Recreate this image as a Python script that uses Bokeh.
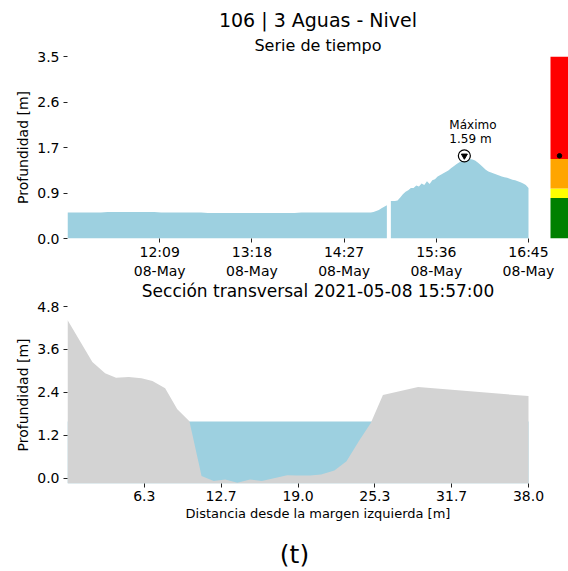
import numpy as np
import pandas as pd
from bokeh.plotting import figure
from bokeh.models import Range1d, FixedTicker, Title, Label
from bokeh.layouts import column
from bokeh.embed import file_html
from bokeh.resources import INLINE
from bokeh.core.properties import value

FONT = "DejaVu Sans"

# ---------------- texts ----------------
station_title = "106 | 3 Aguas - Nivel"
ts_title = "Serie de tiempo"
cs_title = "Sección transversal 2021-05-08 15:57:00"
panel_tag = "(t)"
depth_label = "Profundidad [m]"
dist_label = "Distancia desde la margen izquierda [m]"
day = "2021-05-08"

# ---------------- time series (level, m) ----------------
seg1_times = ["11:00", "11:05", "11:10", "11:15", "11:20", "11:25", "11:30", "11:35", "11:40", "11:45", "11:50", "11:55",
              "12:00", "12:05", "12:10", "12:15", "12:20", "12:25", "12:30", "12:35", "12:40", "12:45", "12:50", "12:55",
              "13:00", "13:05", "13:10", "13:15", "13:20", "13:25", "13:30", "13:35", "13:40", "13:45", "13:50", "13:55",
              "14:00", "14:05", "14:10", "14:15", "14:20", "14:25", "14:30", "14:35", "14:40", "14:45",
              "14:47", "14:49", "14:51", "14:53", "14:55", "14:57", "14:59"]
seg1_levels = [0.50, 0.50, 0.50, 0.50, 0.50, 0.50, 0.51, 0.51, 0.51, 0.51, 0.51, 0.51,
               0.51, 0.51, 0.50, 0.50, 0.50, 0.50, 0.50, 0.50, 0.50, 0.49, 0.49, 0.49,
               0.49, 0.49, 0.49, 0.49, 0.49, 0.49, 0.49, 0.49, 0.49, 0.49, 0.49, 0.50,
               0.50, 0.50, 0.50, 0.50, 0.50, 0.50, 0.50, 0.50, 0.50, 0.50,
               0.50, 0.51, 0.53, 0.55, 0.58, 0.61, 0.64]

seg2_times = ["15:02", "15:03", "15:05", "15:07", "15:09", "15:11", "15:13", "15:15", "15:17", "15:19", "15:21",
              "15:23", "15:25", "15:27", "15:29", "15:31", "15:33", "15:35", "15:37", "15:39", "15:41",
              "15:43", "15:45", "15:47", "15:49", "15:51", "15:53", "15:55", "15:57", "15:59",
              "16:01", "16:03", "16:05", "16:07", "16:09", "16:11", "16:13", "16:15", "16:17", "16:19",
              "16:21", "16:23", "16:25", "16:27", "16:29", "16:31", "16:33", "16:35", "16:37", "16:39",
              "16:41", "16:43", "16:45"]
seg2_levels = [0.72, 0.72, 0.72, 0.73, 0.79, 0.85, 0.90, 0.93, 0.97, 0.97, 1.02,
               1.00, 1.06, 1.03, 1.10, 1.05, 1.12, 1.14, 1.19, 1.22, 1.25,
               1.28, 1.31, 1.35, 1.39, 1.43, 1.46, 1.49, 1.59, 1.51,
               1.53, 1.52, 1.50, 1.46, 1.42, 1.37, 1.32, 1.29, 1.27, 1.25,
               1.23, 1.21, 1.19, 1.18, 1.17, 1.15, 1.13, 1.12, 1.10, 1.08,
               1.06, 1.03, 0.97]

ts_ticks = ["12:09", "13:18", "14:27", "15:36", "16:45"]
ts_tick_labels = ["12:09\n08-May", "13:18\n08-May", "14:27\n08-May", "15:36\n08-May", "16:45\n08-May"]
level_ticks = [0.0, 0.875, 1.75, 2.625, 3.5]
level_tick_labels = ["0.0", "0.9", "1.7", "2.6", "3.5"]

# alert bar (m)
alert_bounds = [0.0, 0.78, 0.96, 1.53, 3.5]
alert_colors = ["green", "yellow", "orange", "red"]

# ---------------- cross section ----------------
dist = [0.0, 2.05, 3.1, 4.0, 5.05, 6.1, 7.0, 8.05, 9.05, 10.05, 11.05, 12.05, 13.0, 14.0, 15.05,
        16.0, 17.2, 18.1, 19.0, 20.0, 20.9, 22.0, 23.0, 24.05, 25.0, 26.0, 28.9, 38.0]
elev = [4.42, 3.25, 2.94, 2.81, 2.83, 2.80, 2.72, 2.52, 1.93, 1.60, 0.07, -0.07, -0.03, -0.12, -0.03,
        -0.07, 0.02, 0.09, 0.08, 0.08, 0.11, 0.22, 0.48, 1.06, 1.55, 2.33, 2.55, 2.30]
water_level = 1.59
dist_ticks = [6.333, 12.667, 19.0, 25.333, 31.667, 38.0]
dist_tick_labels = ["6.3", "12.7", "19.0", "25.3", "31.7", "38.0"]
depth_ticks = [0.0, 1.2, 2.4, 3.6, 4.8]
depth_tick_labels = ["0.0", "1.2", "2.4", "3.6", "4.8"]

WATER = "#9dd0e0"
GROUND = "#d3d3d3"
TXT = "#000000"


def to_ms(hm):
    return pd.Timestamp(f"{day} {hm}").value / 1e6


t1 = [to_ms(t) for t in seg1_times]
t2 = [to_ms(t) for t in seg2_times]
all_t = t1 + t2
all_v = seg1_levels + seg2_levels
imax = int(np.argmax(all_v))
t_max, v_max = all_t[imax], all_v[imax]

# layout geometry (pixels)
W = 568
LEFT = 67
FRAME_W = W - LEFT
DATA_W = 461
ext = (FRAME_W - DATA_W) / DATA_W
BAR_L, BAR_W = 550 - LEFT, 18


def style_axes(p):
    for ax in (p.xaxis[0], p.yaxis[0]):
        ax.axis_line_color = None
        ax.major_tick_line_color = "#222222"
        ax.major_tick_out = 4
        ax.major_tick_in = 0
        ax.minor_tick_line_color = None
        ax.major_label_text_font = FONT
        ax.major_label_text_font_size = "14px"
        ax.major_label_text_color = TXT
        ax.major_label_standoff = 4
        ax.axis_label_text_font = FONT
        ax.axis_label_text_font_style = "normal"
        ax.axis_label_text_color = TXT
    p.grid.visible = False
    p.outline_line_color = None


# ---------------- figure 1: time series ----------------
x0, x1 = t1[0], t2[-1]
p1 = figure(width=W, height=300, x_axis_type="datetime",
            x_range=Range1d(x0, x1 + (x1 - x0) * ext), y_range=Range1d(level_ticks[0], level_ticks[-1]),
            output_backend="svg", toolbar_location=None, title=None,
            min_border_left=LEFT, min_border_right=0, min_border_top=56, min_border_bottom=62)
p1.extra_x_ranges = {"bar": Range1d(-BAR_L / BAR_W, (FRAME_W - BAR_L) / BAR_W)}
style_axes(p1)

p1.varea(x=t1, y1=0, y2=seg1_levels, fill_color=WATER)
p1.varea(x=t2, y1=0, y2=seg2_levels, fill_color=WATER)

p1.quad(left=0, right=1, bottom=alert_bounds[:-1], top=alert_bounds[1:], fill_color=alert_colors,
        line_color=None, x_range_name="bar")
p1.scatter(x=[0.5], y=[v_max], size=4.5, color="black", x_range_name="bar")

p1.scatter(x=[t_max], y=[v_max], marker="circle", size=12, fill_color="white", line_color="black", line_width=1.2)
p1.scatter(x=[t_max], y=[v_max], marker="inverted_triangle", size=6, fill_color="black", line_color="black")
p1.text(x=[t_max], y=[v_max], text=[f"Máximo\n{v_max:.2f} m"], text_font=value(FONT), text_font_size="12px",
        text_align="left", text_baseline="bottom", x_offset=-15, y_offset=-10, text_color=TXT,
        text_line_height=1.0)

tick_ms = [to_ms(t) for t in ts_ticks]
p1.xaxis[0].ticker = FixedTicker(ticks=tick_ms)
p1.xaxis[0].major_label_overrides = {k: v for k, v in zip(tick_ms, ts_tick_labels)}
p1.xaxis[0].major_label_standoff = 1
p1.yaxis[0].ticker = FixedTicker(ticks=level_ticks)
p1.yaxis[0].major_label_overrides = {k: v for k, v in zip(level_ticks, level_tick_labels)}
p1.yaxis[0].axis_label = depth_label
p1.yaxis[0].axis_label_text_font_size = "14px"
p1.yaxis[0].axis_label_standoff = 3

p1.add_layout(Title(text=ts_title, align="center", text_font=FONT, text_font_size="16px",
                    text_font_style="normal", text_color=TXT, standoff=3), "above")
p1.add_layout(Title(text=station_title, align="center", text_font=FONT, text_font_size="19px",
                    text_font_style="normal", text_color=TXT, standoff=4), "above")
p1.add_layout(Title(text=cs_title, align="center", text_font=FONT, text_font_size="17px",
                    text_font_style="normal", text_color=TXT, standoff=-6), "below")

# ---------------- figure 2: cross section ----------------
y_bottom = -0.14
d0, d1 = 0.0, dist[-1]
p2 = figure(width=W, height=231,
            x_range=Range1d(d0, d1 + (d1 - d0) * ext), y_range=Range1d(y_bottom, depth_ticks[-1]),
            output_backend="svg", toolbar_location=None, title=None,
            min_border_left=LEFT, min_border_right=0, min_border_top=6, min_border_bottom=48)
style_axes(p2)

p2.varea(x=[d0, d1], y1=y_bottom, y2=water_level, fill_color=WATER)
p2.varea(x=dist, y1=y_bottom, y2=elev, fill_color=GROUND)

p2.xaxis[0].ticker = FixedTicker(ticks=dist_ticks)
p2.xaxis[0].major_label_overrides = {k: v for k, v in zip(dist_ticks, dist_tick_labels)}
p2.xaxis[0].major_label_standoff = 3
p2.xaxis[0].axis_label = dist_label
p2.xaxis[0].axis_label_text_font_size = "13px"
p2.xaxis[0].axis_label_standoff = 2
p2.yaxis[0].ticker = FixedTicker(ticks=depth_ticks)
p2.yaxis[0].major_label_overrides = {k: v for k, v in zip(depth_ticks, depth_tick_labels)}
p2.yaxis[0].axis_label = depth_label
p2.yaxis[0].axis_label_text_font_size = "14px"
p2.yaxis[0].axis_label_standoff = 3

# ---------------- strip with the panel tag ----------------
TAG_H = 40
p3 = figure(width=W, height=TAG_H, x_axis_location=None, y_axis_location=None,
            output_backend="svg", toolbar_location=None, title=None,
            min_border=0, min_border_left=0, min_border_right=0, min_border_top=0, min_border_bottom=0)
p3.grid.visible = False
p3.outline_line_color = None
p3.add_layout(Label(x=294 - LEFT, y=TAG_H - 23, x_units="screen", y_units="screen", text=panel_tag,
                    text_font=FONT, text_font_size="25px", text_color=TXT,
                    text_align="center", text_baseline="middle"))

layout = column(p1, p2, p3, spacing=0)
open("out.html", "w").write(file_html(layout, INLINE))
